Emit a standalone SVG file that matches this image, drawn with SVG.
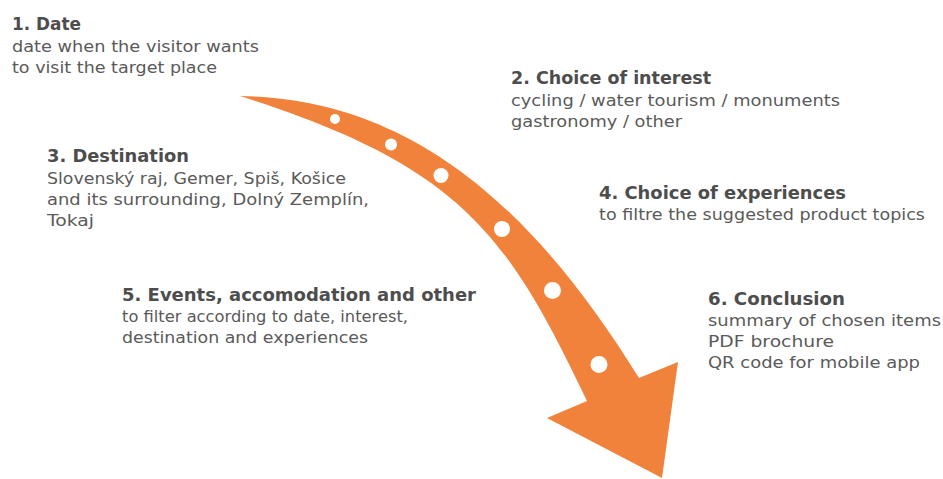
<svg xmlns="http://www.w3.org/2000/svg" width="943" height="479" viewBox="0 0 943 479">
<style>
.t{font-family:"DejaVu Sans","Liberation Sans",sans-serif;font-weight:bold;font-size:18px;fill:#4d4d4d}
.b{font-family:"DejaVu Sans","Liberation Sans",sans-serif;font-size:15.5px;fill:#5a5a5a}
.dot{fill:#ffffff}
</style>
<rect width="943" height="479" fill="#ffffff"/>
<g id="connectors">
<path d="M240,96 C430,98 550,235 639,378 L678,362 L662,478 L547,418 L587,401 C507,233 460,166 240,96 Z" fill="#f0823c"/>
<circle class="dot" cx="335" cy="119" r="5"/>
<circle class="dot" cx="391" cy="144.5" r="6"/>
<circle class="dot" cx="441" cy="175.5" r="7.5"/>
<circle class="dot" cx="502" cy="229" r="8"/>
<circle class="dot" cx="552.5" cy="290.5" r="8.5"/>
<circle class="dot" cx="599" cy="364.5" r="8.5"/>
</g>
<g id="node1">
<text class="t" x="12" y="30" textLength="69" lengthAdjust="spacingAndGlyphs">1. Date</text>
<text class="b" x="12" y="52" textLength="247" lengthAdjust="spacingAndGlyphs">date when the visitor wants</text>
<text class="b" x="12" y="73" textLength="205" lengthAdjust="spacingAndGlyphs">to visit the target place</text>
</g>
<g id="node2">
<text class="t" x="511" y="84" textLength="200" lengthAdjust="spacingAndGlyphs">2. Choice of interest</text>
<text class="b" x="511" y="106" textLength="329" lengthAdjust="spacingAndGlyphs">cycling / water tourism / monuments</text>
<text class="b" x="511" y="127" textLength="171" lengthAdjust="spacingAndGlyphs">gastronomy / other</text>
</g>
<g id="node3">
<text class="t" x="47" y="162" textLength="142" lengthAdjust="spacingAndGlyphs">3. Destination</text>
<text class="b" x="47" y="184" textLength="299" lengthAdjust="spacingAndGlyphs">Slovenský raj, Gemer, Spiš, Košice</text>
<text class="b" x="47" y="205" textLength="322" lengthAdjust="spacingAndGlyphs">and its surrounding, Dolný Zemplín,</text>
<text class="b" x="47" y="226" textLength="47" lengthAdjust="spacingAndGlyphs">Tokaj</text>
</g>
<g id="node4">
<text class="t" x="599" y="199" textLength="247" lengthAdjust="spacingAndGlyphs">4. Choice of experiences</text>
<text class="b" x="599" y="220" textLength="326" lengthAdjust="spacingAndGlyphs">to filtre the suggested product topics</text>
</g>
<g id="node5">
<text class="t" x="122" y="301" textLength="354" lengthAdjust="spacingAndGlyphs">5. Events, accomodation and other</text>
<text class="b" x="122" y="322" textLength="286" lengthAdjust="spacingAndGlyphs">to filter according to date, interest,</text>
<text class="b" x="122" y="343" textLength="246" lengthAdjust="spacingAndGlyphs">destination and experiences</text>
</g>
<g id="node6">
<text class="t" x="708" y="305" textLength="137" lengthAdjust="spacingAndGlyphs">6. Conclusion</text>
<text class="b" x="708" y="326" textLength="233" lengthAdjust="spacingAndGlyphs">summary of chosen items</text>
<text class="b" x="708" y="347" textLength="126" lengthAdjust="spacingAndGlyphs">PDF brochure</text>
<text class="b" x="708" y="368" textLength="212" lengthAdjust="spacingAndGlyphs">QR code for mobile app</text>
</g>
</svg>
